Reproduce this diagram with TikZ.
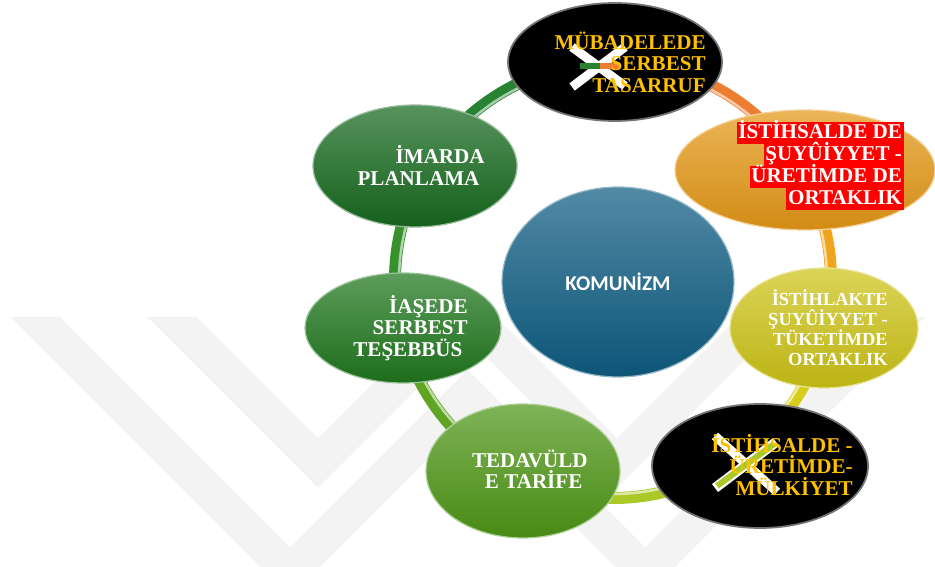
\documentclass[tikz,border=0pt]{standalone}
\usepackage{fontspec}
\setmainfont{Liberation Serif}
\newfontfamily\komfont{Carlito}
\usetikzlibrary{shapes.geometric}
\definecolor{ring1}{RGB}{237, 125, 49}
\definecolor{ring2}{RGB}{240, 165, 30}
\definecolor{ring3}{RGB}{215, 205, 25}
\definecolor{ring4}{RGB}{170, 200, 40}
\definecolor{ring5}{RGB}{95, 165, 35}
\definecolor{ring6}{RGB}{55, 145, 45}
\definecolor{ring7}{RGB}{40, 130, 50}
\definecolor{imar}{RGB}{22, 105, 30}
\definecolor{iase}{RGB}{30, 118, 28}
\definecolor{teda}{RGB}{78, 150, 22}
\definecolor{komu}{RGB}{14, 92, 130}
\definecolor{istih}{RGB}{228, 152, 22}
\definecolor{tuke}{RGB}{205, 195, 22}
\definecolor{gold}{RGB}{255, 192, 0}
\definecolor{wmark}{RGB}{243, 243, 243}

\tikzset{
  bubble/.style={ellipse, inner sep=0pt, top color=#1!72!white, middle color=#1, bottom color=#1!92!black, draw=#1!45!white, line width=0.7pt},
  blackbub/.style={ellipse, inner sep=0pt, fill=black, draw=black!55, line width=1pt},
  bubtext/.style={font=\bfseries\fontsize{12}{12.2}\selectfont, align=right, anchor=east, inner sep=0pt},
  redline/.style={fill=red, text=white, font=\bfseries\fontsize{12}{12}\selectfont, text height=9pt, text depth=3pt, inner xsep=1pt, inner ysep=0.2pt, anchor=east}
}

\begin{document}
\begin{tikzpicture}[x=0.02cm, y=-0.02cm]
\useasboundingbox (0,0) rectangle (935,567);

% watermark
\begin{scope}
\clip (0,317) rectangle (935,567);
\draw [wmark, line width=0.7cm, line join=miter] (15,297) -- (290,572) -- (467.5,394.5) -- (645,572) -- (920,297);
\draw [wmark, line width=0.7cm, line join=miter] (152,297) -- (318,463) -- (467.5,313.5) -- (617,463) -- (783,297);
\end{scope}

% ring
\coordinate (ring) at (613,280);
\foreach \a/\b/\c in {-89.5/-29.8/ring1, -29.8/12.8/ring2, 12.8/51.7/ring3, 51.7/115/ring4, 115/167/ring5, 167/210/ring6, 210/270.5/ring7}{
  \draw [\c, line width=0.24cm] (ring) ++(\a:218) arc [start angle=\a, end angle=\b, radius=218];
  \draw [\c!40!white, line width=0.05cm] (ring) ++(\a:214) arc [start angle=\a, end angle=\b, radius=214];
}

% bubbles
\node [bubble=komu, minimum width=4.64cm, minimum height=3.8cm, text=white, font=\komfont\bfseries\fontsize{12}{14}\selectfont] (komunizm) at (618,282) {KOMUNİZM};
\node [blackbub, minimum width=4.28cm, minimum height=2.36cm] (mubadele) at (615,62) {};
\node [bubble=istih, minimum width=5.2cm, minimum height=2.4cm] (istihsal) at (805,170) {};
\node [bubble=tuke, minimum width=3.76cm, minimum height=2.4cm] (istihlak) at (824,328) {};
\node [blackbub, minimum width=4.32cm, minimum height=2.48cm] (mulkiyet) at (760,466) {};
\node [bubble=teda, minimum width=3.88cm, minimum height=2.68cm] (tedavul) at (523,471) {};
\node [bubble=iase, minimum width=3.92cm, minimum height=2.2cm] (iase) at (403,328) {};
\node [bubble=imar, minimum width=4.08cm, minimum height=2.44cm] (imar) at (415,166) {};

% crosses
\draw [white, line width=0.18cm] (572,47) -- (625,86);
\draw [white, line width=0.18cm] (572,87) -- (625,47);
\draw [ring7, line width=0.12cm] (580,66) -- (600,66);
\draw [ring1, line width=0.12cm] (600,66) -- (620,66);

\draw [white, line width=0.18cm] (715,436) -- (777,492);
\draw [white, line width=0.2cm] (715,488) -- (776,442);
\draw [ring4, line width=0.12cm] (717,486) -- (774,444);

% texts
\node [bubtext, text=gold] (mubadeletext) at (706,62) {MÜBADELEDE\\SERBEST\\TASARRUF};
\foreach \t [count=\i] in {İSTİHSALDE DE, ŞUYÛİYYET -, ÜRETİMDE DE, ORTAKLIK}
  \node [redline] (istihsal\i) at (904,{111+22*\i}) {\t};
\node [bubtext, text=white, font=\bfseries\fontsize{10.5}{11.3}\selectfont] (istihlaktext) at (888,327.5) {İSTİHLAKTE\\ŞUYÛİYYET -\\TÜKETİMDE\\ORTAKLIK};
\node [bubtext, text=gold] (mulkiyettext) at (853,465) {İSTİHSALDE -\\ÜRETİMDE-\\MÜLKİYET};
\node [bubtext, text=white] (tedavultext) at (588,469) {TEDAVÜLD\\E TARİFE\hspace*{.25em}};
\node [bubtext, text=white] (iasetext) at (468,328) {İAŞEDE\\SERBEST\\TEŞEBBÜS\hspace*{.25em}};
\node [bubtext, text=white] (imartext) at (485,165.5) {İMARDA\\PLANLAMA\hspace*{.25em}};
\end{tikzpicture}
\end{document}
